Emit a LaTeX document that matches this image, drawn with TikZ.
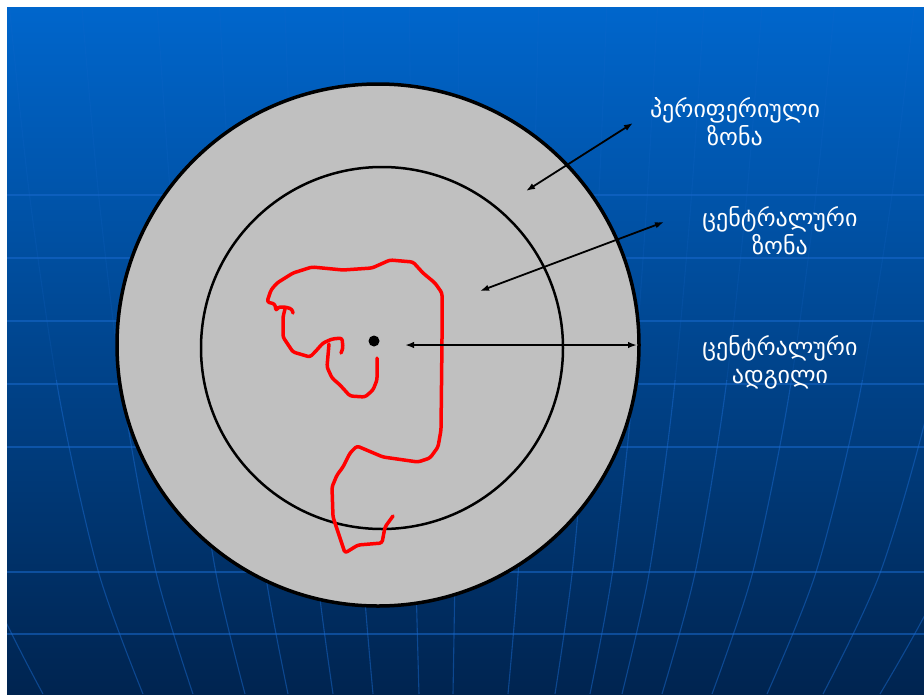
\documentclass[tikz,border=0pt]{standalone}
\usepackage{fontspec}
\newfontfamily\geofont{DejaVu Sans}
\usetikzlibrary{arrows.meta}
\definecolor{bgtop}{RGB}{0,102,204}
\definecolor{bgmid}{RGB}{0,70,142}
\definecolor{bgbot}{RGB}{0,36,80}
\definecolor{gridblue}{RGB}{25,105,205}
\definecolor{discgray}{RGB}{192,192,192}

\begin{document}
\begin{tikzpicture}[x=1pt, y=-1pt,
  gridline/.style={gridblue, line width=1.2pt, opacity=0.55},
  meridian/.style={gridblue, line width=1.1pt},
  zonelbl/.style={text=white, font=\geofont\fontsize{24}{28}\selectfont, align=center, inner sep=0pt},
  dblarrow/.style={{Latex[length=9pt,width=6.5pt]}-{Latex[length=9pt,width=6.5pt]}, line width=1.8pt},
  trace/.style={draw=red, line width=3.5pt, line cap=round, line join=round, rounded corners=2.5pt}]

\useasboundingbox (0,0) rectangle (924,694);
\fill[white] (0,0) rectangle (924,694);

% ---- background ------------------------------------------------------------
\shade[top color=bgtop, middle color=bgmid, bottom color=bgbot] (7,7) rectangle (924,694);
\begin{scope}
  \clip (7,7) rectangle (924,694);
  \foreach \hy in {195,258,321,384,447,572,634}
    \draw[gridline] (7,\hy) -- (924,\hy);
\end{scope}
% meridians: faint above, clearer below
\foreach \ytop/\ybot/\op in {7/380/0.18, 380/694/0.5} {
  \begin{scope}
    \clip (7,\ytop) rectangle (924,\ybot);
    \foreach \bx in {43,143,193,245,288,333,373,419,453,508,555,590,622,662,712,767,823,880}
      \draw[meridian, opacity=\op] plot[smooth] coordinates {(\bx,694) ({440+1.15*(\bx-440)},572)
        ({440+1.28*(\bx-440)},400) ({440+1.38*(\bx-440)},200) ({440+1.45*(\bx-440)},7)};
  \end{scope}
}

% ---- zones -----------------------------------------------------------------
\draw[fill=discgray, line width=3.5pt] (378,345) circle (261pt);
\draw[line width=2.5pt] (382,348) circle (181pt);
\fill (374,341) circle (5.5pt);

% ---- red trace -------------------------------------------------------------
\draw[trace] (293,313) -- (292,309) -- (285,307) -- (278,307) -- (276,311) -- (275,304)
  -- (267,302) -- (271,290) -- (277,283) -- (293,273) -- (312,267) -- (343,270)
  -- (372,268) -- (390,260) -- (413,262) -- (423,273) -- (435,283) -- (442,293)
  -- (442,340) -- (441,430) -- (438,447) -- (430,458) -- (418,462) -- (383,457)
  -- (357,446) -- (350,453) -- (343,467) -- (337,475) -- (332,487) -- (333,517)
  -- (345,553) -- (358,545) -- (382,543) -- (385,527) -- (393,516);
\draw[trace] (285,309) -- (283,317) -- (283,337) -- (293,352) -- (310,357) -- (315,352)
  -- (323,343) -- (332,339) -- (342,338) -- (343,348) -- (341,353);
\draw[trace] (329,344) -- (327,367) -- (332,378) -- (340,385) -- (350,396) -- (365,397)
  -- (373,390) -- (377,380) -- (377,358);

% ---- labels ----------------------------------------------------------------
\node[zonelbl] (periph) at (735,122) {პერიფერიული\\ზონა};
\node[zonelbl] (czone) at (780,231) {ცენტრალური\\ზონა};
\node[zonelbl] (cplace) at (780,362) {ცენტრალური\\ადგილი};

% ---- pointers --------------------------------------------------------------
\coordinate (pz-in) at (526,191);
\coordinate (pz-out) at (633,123);
\coordinate (cz-in) at (480,291);
\coordinate (cz-out) at (664,222);
\coordinate (cp-in) at (405,345);
\coordinate (cp-out) at (637,345);
\draw[dblarrow] (pz-in) -- (pz-out);
\draw[dblarrow] (cz-in) -- (cz-out);
\draw[dblarrow] (cp-in) -- (cp-out);

\end{tikzpicture}
\end{document}
